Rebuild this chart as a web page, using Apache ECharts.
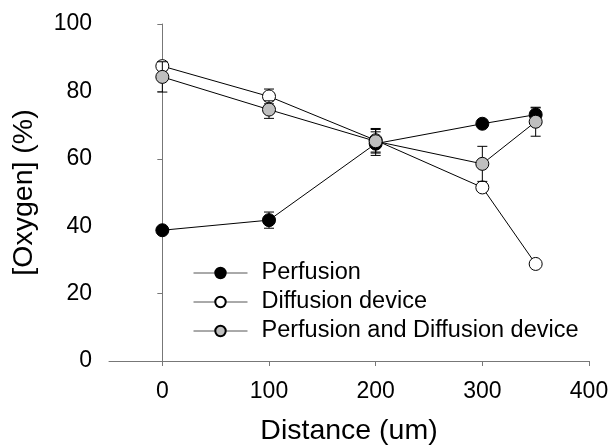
<!DOCTYPE html>
<html>
<head>
<meta charset="utf-8">
<script src="https://cdn.jsdelivr.net/npm/echarts@6/dist/echarts.min.js"></script>
<style>
html,body{margin:0;padding:0;background:#fff;}
#chart{width:612px;height:447px;}
</style>
</head>
<body>
<div id="chart"></div>
<script>
var distances = [0, 100, 200, 300, 350];
var xTicks = [0, 100, 200, 300, 400];
var perfusion = [38.8, 41.8, 64.5, 70.4, 73.1];
var perfusionErr = [0.5, 2.4, 3.5, 1.0, 2.0];
var diffusion = [87.5, 78.5, 65.5, 51.5, 28.8];
var diffusionErr = [1.3, 2.2, 3.5, 0.5, 0.5];
var combined = [84.3, 74.6, 65.2, 58.5, 71.0];
var combinedErr = [4.5, 2.6, 3.5, 5.2, 4.3];
var seriesNames = ['Perfusion', 'Diffusion device', 'Perfusion and Diffusion device'];

var FONT = '"Liberation Sans", Arial, sans-serif';

function pts(vals) { return distances.map(function (d, i) { return [d, vals[i]]; }); }
function errPts(vals, errs) { return distances.map(function (d, i) { return [d, vals[i], errs[i]]; }); }

function renderErr(params, api) {
  var x = api.value(0), y = api.value(1), e = api.value(2);
  var top = api.coord([x, y + e]);
  var bot = api.coord([x, y - e]);
  var hw = 5;
  var st = { stroke: '#000', lineWidth: 1 };
  return {
    type: 'group',
    children: [
      { type: 'line', shape: { x1: top[0], y1: top[1], x2: bot[0], y2: bot[1] }, style: st },
      { type: 'line', shape: { x1: top[0] - hw, y1: top[1], x2: top[0] + hw, y2: top[1] }, style: st },
      { type: 'line', shape: { x1: bot[0] - hw, y1: bot[1], x2: bot[0] + hw, y2: bot[1] }, style: st }
    ]
  };
}

function lineSeries(name, vals, fill, z) {
  return {
    name: name, type: 'line', data: pts(vals), z: z,
    symbol: 'circle', symbolSize: 13, showAllSymbol: true,
    lineStyle: { color: '#000', width: 1 },
    itemStyle: { color: fill, borderColor: '#000', borderWidth: 1, opacity: 1 },
    emphasis: { disabled: true }, animation: false
  };
}
function errSeries(vals, errs, z) {
  return {
    type: 'custom', data: errPts(vals, errs), renderItem: renderErr, z: z,
    encode: { x: 0, y: 1 }, silent: true, animation: false
  };
}

var chart = echarts.init(document.getElementById('chart'), null, { renderer: 'canvas' });
chart.setOption({
  animation: false,
  backgroundColor: '#fff',
  grid: { left: 109, right: 23, top: 24, bottom: 86, containLabel: false, outerBoundsMode: 'none' },
  legend: {
    left: 188, top: 256, orient: 'vertical',
    itemWidth: 54, itemHeight: 13, itemGap: 5,
    data: seriesNames,
    lineStyle: { color: '#555', width: 1 },
    textStyle: { fontFamily: FONT, fontSize: 23.5, color: '#000', lineHeight: 24, padding: [0, 0, 0, 9] },
    selectedMode: false
  },
  xAxis: {
    type: 'value', min: -50, max: 400,
    name: 'Distance (um)', nameLocation: 'middle', nameGap: 56,
    nameTextStyle: { fontFamily: FONT, fontSize: 28.5, color: '#000' },
    axisLine: { show: true, lineStyle: { color: '#777', width: 1 } },
    axisTick: { show: true, length: 5, inside: false, customValues: xTicks, lineStyle: { color: '#777' } },
    axisLabel: { customValues: xTicks, margin: 19, fontFamily: FONT, fontSize: 23, color: '#000' },
    splitLine: { show: false }
  },
  yAxis: {
    type: 'value', min: 0, max: 100, interval: 20,
    name: '[Oxygen] (%)', nameLocation: 'middle', nameGap: 70, nameRotate: 90,
    nameTextStyle: { fontFamily: FONT, fontSize: 28.5, color: '#000' },
    axisLine: { show: true, lineStyle: { color: '#777', width: 1 } },
    axisTick: { show: true, length: 5, inside: false, lineStyle: { color: '#777' } },
    axisLabel: { margin: 17, fontFamily: FONT, fontSize: 23, color: '#000' },
    splitLine: { show: false }
  },
  series: [
    errSeries(perfusion, perfusionErr, 1),
    lineSeries(seriesNames[0], perfusion, '#000', 2),
    errSeries(diffusion, diffusionErr, 3),
    lineSeries(seriesNames[1], diffusion, '#fff', 4),
    errSeries(combined, combinedErr, 5),
    lineSeries(seriesNames[2], combined, '#bfbfbf', 6)
  ]
});
</script>
</body>
</html>
